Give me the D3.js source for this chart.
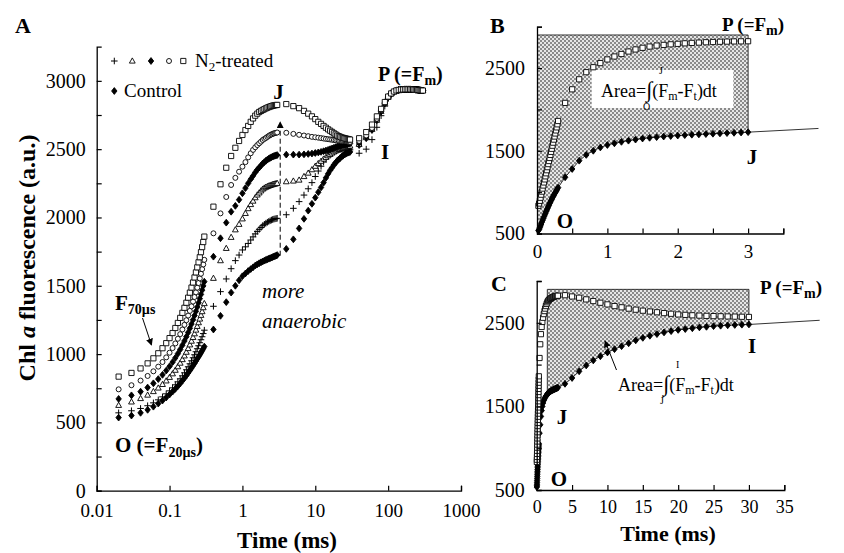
<!DOCTYPE html>
<html>
<head>
<meta charset="utf-8">
<script src="https://cdn.jsdelivr.net/npm/d3@7"></script>
<style>
  body { margin: 0; background: #fff; }
  text { font-family: "Liberation Serif", "Times New Roman", serif; fill: #000; }
</style>
</head>
<body>
<div id="vis"></div>
<script>
// sampling times of the transients (ms)
const TIMES = [
  0.02, 0.03, 0.04, 0.05, 0.06, 0.07, 0.08, 0.09, 0.10, 0.11, 0.12, 0.13, 0.14, 0.15, 0.16,
  0.17, 0.18, 0.19, 0.20, 0.21, 0.22, 0.23, 0.24, 0.25, 0.26, 0.27, 0.28, 0.29, 0.30,
  0.4, 0.5, 0.6, 0.7, 0.8, 0.9, 1.0, 1.1, 1.2, 1.3, 1.4, 1.5, 1.6, 1.7, 1.8, 1.9, 2.0,
  2.1, 2.2, 2.3, 2.4, 2.5, 2.6, 2.7, 2.8, 2.9, 3.0,
  4, 5, 6, 7, 8, 9, 10, 11, 12, 13, 14, 15, 16, 17, 18, 19, 20, 21, 22, 23, 24, 25, 26, 27, 28, 29, 30,
  40, 50, 60, 70, 80, 90, 100, 110, 120, 130, 140, 150, 160, 170, 180, 190, 200, 210, 220,
  230, 240, 250, 260, 270, 280, 290, 300
];

// Chl a fluorescence (a.u.) of each sample, same order as TIMES
const CONTROL = [
  535, 550, 570, 592, 615, 638, 660, 682, 704, 725, 745, 765, 785, 805, 824,
  843, 862, 880, 898, 915, 932, 949, 965, 980, 995, 1010, 1025, 1040, 1055,
  1180, 1280, 1380, 1450, 1500, 1540, 1570, 1590, 1608, 1622, 1635, 1648, 1657, 1665, 1672, 1678, 1684,
  1689, 1694, 1698, 1702, 1706, 1710, 1714, 1717, 1721, 1725,
  1770, 1840, 1920, 1990, 2050, 2100, 2145, 2185, 2220, 2255, 2290, 2320, 2345, 2365, 2385, 2400, 2415,
  2425, 2435, 2445, 2452, 2460, 2465, 2470, 2474, 2477, 2480,
  2530, 2580, 2640, 2710, 2775, 2835, 2880, 2905, 2920, 2928, 2933, 2935, 2937, 2938, 2938, 2938, 2938,
  2937, 2937, 2936, 2935, 2934, 2933, 2932, 2931, 2930, 2929
];
const N2_PLUS = [
  570, 585, 602, 622, 643, 665, 687, 709, 731, 753, 775, 797, 819, 841, 863,
  885, 907, 929, 951, 973, 995, 1017, 1039, 1061, 1083, 1105, 1127, 1150, 1175,
  1350, 1457, 1550, 1625, 1684, 1725, 1762, 1785, 1810, 1835, 1858, 1880, 1898, 1913, 1927, 1940, 1950,
  1958, 1965, 1971, 1976, 1981, 1985, 1988, 1990, 1992, 1994,
  2020, 2067, 2116, 2164, 2210, 2255, 2300, 2340, 2375, 2405, 2430, 2450, 2465, 2476, 2484, 2490, 2494,
  2497, 2499, 2500, 2500, 2500, 2499, 2498, 2497, 2496, 2495,
  2470, 2500, 2570, 2660, 2745, 2815, 2870, 2900, 2918, 2927, 2932, 2935, 2937, 2938, 2938, 2938, 2938,
  2937, 2937, 2936, 2935, 2934, 2933, 2932, 2931, 2930, 2929
];
const N2_TRIANGLE = [
  625, 650, 675, 700, 726, 752, 778, 804, 830, 856, 882, 908, 934, 960, 987,
  1014, 1041, 1068, 1095, 1122, 1149, 1176, 1203, 1230, 1257, 1284, 1311, 1340, 1370,
  1555, 1684, 1774, 1855, 1910, 1950, 1990, 2030, 2065, 2095, 2120, 2145, 2165, 2180, 2195, 2208, 2216,
  2222, 2227, 2231, 2235, 2238, 2241, 2244, 2246, 2248, 2250,
  2262, 2267, 2274, 2300, 2325, 2350, 2375, 2395, 2412, 2428, 2440, 2452, 2462, 2472, 2480, 2487, 2493,
  2498, 2502, 2506, 2509, 2512, 2515, 2517, 2519, 2521, 2523,
  2535, 2585, 2645, 2712, 2777, 2836, 2880, 2905, 2920, 2928, 2933, 2935, 2937, 2938, 2938, 2938, 2938,
  2937, 2937, 2936, 2935, 2934, 2933, 2932, 2931, 2930, 2929
];
const N2_DIAMOND = [
  672, 698, 725, 755, 786, 817, 848, 879, 910, 941, 972, 1003, 1034, 1065, 1096,
  1127, 1158, 1189, 1220, 1251, 1282, 1313, 1344, 1375, 1406, 1437, 1468, 1499, 1530,
  1713, 1848, 1962, 2042, 2085, 2130, 2177, 2215, 2250, 2280, 2305, 2330, 2350, 2365, 2380, 2395, 2405,
  2415, 2423, 2430, 2436, 2441, 2445, 2449, 2452, 2455, 2457,
  2460, 2460, 2460, 2462, 2465, 2468, 2472, 2476, 2480, 2485, 2490, 2495, 2500, 2505, 2510, 2514, 2518,
  2522, 2525, 2528, 2531, 2534, 2536, 2538, 2540, 2541, 2542,
  2545, 2590, 2650, 2718, 2780, 2838, 2882, 2906, 2921, 2929, 2934, 2936, 2937, 2938, 2938, 2938, 2938,
  2937, 2937, 2936, 2935, 2934, 2933, 2932, 2931, 2930, 2929
];
const N2_CIRCLE = [
  742, 772, 806, 840, 874, 908, 942, 976, 1010, 1044, 1078, 1112, 1146, 1180, 1214,
  1248, 1282, 1316, 1350, 1384, 1418, 1452, 1486, 1520, 1554, 1588, 1622, 1656, 1690,
  1884, 2030, 2150, 2238, 2290, 2335, 2372, 2405, 2440, 2470, 2495, 2514, 2530, 2543, 2555, 2567, 2575,
  2582, 2590, 2597, 2603, 2608, 2612, 2615, 2618, 2620, 2622,
  2620, 2612, 2605, 2600, 2595, 2590, 2587, 2584, 2581, 2578, 2575, 2573, 2571, 2569, 2567, 2565, 2563,
  2562, 2561, 2560, 2559, 2558, 2557, 2556, 2555, 2554, 2553,
  2560, 2600, 2655, 2722, 2785, 2840, 2884, 2907, 2922, 2929, 2934, 2936, 2937, 2938, 2938, 2938, 2938,
  2937, 2937, 2936, 2935, 2934, 2933, 2932, 2931, 2930, 2929
];
const N2_SQUARE = [
  835, 862, 895, 932, 969, 1006, 1043, 1080, 1117, 1154, 1191, 1228, 1265, 1302, 1339,
  1376, 1413, 1450, 1487, 1524, 1561, 1598, 1635, 1672, 1709, 1746, 1783, 1820, 1860,
  2079, 2243, 2364, 2450, 2510, 2560, 2604, 2640, 2670, 2700, 2725, 2745, 2760, 2772, 2780, 2787, 2793,
  2799, 2804, 2808, 2812, 2815, 2818, 2820, 2822, 2823, 2824,
  2830, 2815, 2800, 2780, 2760, 2740, 2720, 2700, 2685, 2670, 2657, 2645, 2635, 2626, 2616, 2608, 2600,
  2595, 2590, 2586, 2583, 2580, 2578, 2576, 2574, 2572, 2570,
  2580, 2625, 2680, 2740, 2795, 2845, 2885, 2908, 2922, 2930, 2934, 2936, 2937, 2938, 2938, 2938, 2938,
  2937, 2937, 2936, 2935, 2934, 2933, 2932, 2931, 2930, 2929
];

// tick values
const A_X_TICKS = [0.01, 0.1, 1, 10, 100, 1000];
const A_Y_TICKS = [0, 250, 500, 750, 1000, 1250, 1500, 1750, 2000, 2250, 2500, 2750, 3000];
const BC_Y_TICKS = [500, 1000, 1500, 2000, 2500, 3000];
const B_X_TICKS = [0, 0.5, 1, 1.5, 2, 2.5, 3, 3.5];
const C_X_TICKS = [0, 5, 10, 15, 20, 25, 30, 35];

// F_m level and the integration limits of the shaded areas (ms)
const FM = 2900;
const B_LIMITS = [0, 3];
const C_LIMITS = [1.5, 30];
// dashed arrow at J in panel A: time and fluorescence range
const J_ARROW_TIME = 3.3;
const J_ARROW_RANGE = [1720, 2700];

const FRAME_WIDTH = 844;
const FRAME_HEIGHT = 553;
const SERIF = '"Liberation Serif", "Times New Roman", serif';

const SVG = d3.select("#vis")
              .append("svg")
                .attr("width", FRAME_WIDTH)
                .attr("height", FRAME_HEIGHT)
                .attr("font-family", SERIF);

// scales of the three panels
const X_A = d3.scaleLog().domain([0.01, 1000]).range([96.7, 461]);
const Y_A = d3.scaleLinear().domain([0, 3250]).range([490.7, 46.7]);
const X_B = d3.scaleLinear().domain([0, 3.5]).range([537, 783.3]);
const Y_B = d3.scaleLinear().domain([500, 3000]).range([233.5, 26.7]);
const X_C = d3.scaleLinear().domain([0, 35]).range([536.7, 784.3]);
const Y_C = d3.scaleLinear().domain([500, 3000]).range([490, 281]);

// defs: stipple fill and arrow heads
const DEFS = SVG.append("defs");
const PAT = DEFS.append("pattern")
                .attr("id", "stipple")
                .attr("patternUnits", "userSpaceOnUse")
                .attr("width", 4).attr("height", 4);
PAT.append("rect").attr("width", 4).attr("height", 4).attr("fill", "#e6e6e6");
PAT.append("rect").attr("width", 2).attr("height", 2).attr("fill", "#8a8a8a");
PAT.append("rect").attr("x", 2).attr("y", 2).attr("width", 2).attr("height", 2).attr("fill", "#8a8a8a");

DEFS.append("marker")
      .attr("id", "head")
      .attr("viewBox", "0 0 10 10")
      .attr("refX", 9).attr("refY", 5)
      .attr("markerWidth", 7).attr("markerHeight", 7)
      .attr("markerUnits", "userSpaceOnUse")
      .attr("orient", "auto")
    .append("path")
      .attr("d", "M0,0L10,5L0,10Z")
      .attr("fill", "#000");

// marker shapes
const SHAPES = {
  square: "M-2.6,-2.6h5.2v5.2h-5.2z",
  circle: "M2.5,0A2.5,2.5 0 1,1 -2.5,0A2.5,2.5 0 1,1 2.5,0Z",
  triangle: "M0,-3.1L2.9,2.1L-2.9,2.1Z",
  diamond: "M0,-3.4L2.7,0L0,3.4L-2.7,0Z",
  plus: "M-3.3,0H3.3M0,-3.3V3.3"
};

function styleMarker(sel, shape) {
  sel.attr("d", SHAPES[shape])
     .attr("fill", shape === "diamond" ? "#000" : (shape === "plus" ? "none" : "#fff"))
     .attr("stroke", "#000")
     .attr("stroke-width", shape === "plus" ? 1 : 0.9);
}

// pairs a series with TIMES, keeping samples in [t0, t1]
function points(values, t0, t1) {
  return TIMES.map((t, i) => ({t: t, v: values[i]}))
              .filter(d => d.v != null && d.t >= t0 && d.t <= t1);
}

function drawMarkers(g, data, shape, xs, ys) {
  g.append("g")
    .selectAll("path")
    .data(data)
    .enter()
    .append("path")
      .attr("transform", d => "translate(" + xs(d.t) + "," + ys(d.v) + ")")
      .call(styleMarker, shape);
}

function styleAxis(g, size) {
  g.attr("font-family", SERIF);
  g.select(".domain").attr("stroke", "#000").attr("stroke-width", 1.3);
  g.selectAll(".tick line").attr("stroke", "#000").attr("stroke-width", 1.2);
  g.selectAll(".tick text")
    .attr("font-family", SERIF)
    .attr("font-size", size)
    .attr("fill", "#000");
}

// text made of runs; a run may be a lowered subscript
function richText(g, x, y, runs, size, opts) {
  opts = opts || {};
  const t = g.append("text")
             .attr("x", x).attr("y", y)
             .attr("font-family", SERIF)
             .attr("font-size", size)
             .attr("font-weight", opts.bold ? "bold" : "normal")
             .attr("text-anchor", opts.anchor || "start");
  if (opts.italic) t.attr("font-style", "italic");
  let shift = 0;
  runs.forEach(r => {
    const s = t.append("tspan").text(r.text);
    const want = r.sub ? (r.dy != null ? r.dy : size * 0.3) : 0;
    if (want - shift !== 0) s.attr("dy", want - shift);
    shift = want;
    if (r.sub || r.size) s.attr("font-size", r.size || size * 0.68);
    if (r.italic) s.attr("font-style", "italic");
  });
  return t;
}

function arrow(g, x1, y1, x2, y2, dash) {
  const l = g.append("line")
             .attr("x1", x1).attr("y1", y1)
             .attr("x2", x2).attr("y2", y2)
             .attr("stroke", "#000")
             .attr("stroke-width", 1)
             .attr("marker-end", "url(#head)");
  if (dash) l.attr("stroke-dasharray", dash);
}

// ---------------- PANEL A ----------------
const FRAME_A = SVG.append("g");

const SERIES_A = [
  {shape: "diamond", values: CONTROL},
  {shape: "plus", values: N2_PLUS},
  {shape: "triangle", values: N2_TRIANGLE},
  {shape: "diamond", values: N2_DIAMOND},
  {shape: "circle", values: N2_CIRCLE},
  {shape: "square", values: N2_SQUARE}
];

SERIES_A.forEach(s => {
  drawMarkers(FRAME_A, points(s.values, 0, 1000), s.shape, X_A, Y_A);
});

// dashed arrow at J
arrow(FRAME_A, X_A(J_ARROW_TIME), Y_A(J_ARROW_RANGE[0]),
      X_A(J_ARROW_TIME), Y_A(J_ARROW_RANGE[1]), "5,3");

// axes
FRAME_A.append("g")
    .attr("transform", "translate(0," + Y_A(0) + ")")
    .call(d3.axisBottom(X_A)
            .tickValues(A_X_TICKS)
            .tickFormat(d => String(d))
            .tickSize(-5).tickSizeOuter(-5).tickPadding(13))
    .call(styleAxis, 19);

FRAME_A.append("g")
    .attr("transform", "translate(" + X_A(0.01) + ",0)")
    .call(d3.axisLeft(Y_A)
            .tickValues(A_Y_TICKS)
            .tickFormat(d => d % 500 === 0 ? d : "")
            .tickSize(-5).tickSizeOuter(-5).tickPadding(11))
    .call(styleAxis, 20);

// legend
const LEGEND_SHAPES = ["plus", "triangle", "diamond", "circle", "square"];
const LEGEND_X = [114.3, 132.3, 151, 169, 183.3];
LEGEND_SHAPES.forEach((s, i) => {
  FRAME_A.append("path")
    .attr("transform", "translate(" + LEGEND_X[i] + ",61)")
    .call(styleMarker, s);
});
richText(FRAME_A, 195, 67, [{text: "N"}, {text: "2", sub: true, dy: 4, size: 13}, {text: "-treated"}], 19);
FRAME_A.append("path").attr("transform", "translate(114.3,91)").call(styleMarker, "diamond");
richText(FRAME_A, 124, 97, [{text: "Control"}], 19);

// labels
richText(FRAME_A, 15, 33, [{text: "A"}], 22, {bold: true});
richText(FRAME_A, 278.5, 99, [{text: "J"}], 21, {bold: true, anchor: "middle"});
richText(FRAME_A, 378, 81, [{text: "P (=F"}, {text: "m", sub: true, dy: 4, size: 14}, {text: ")"}], 20, {bold: true});
richText(FRAME_A, 385, 159, [{text: "I"}], 21, {bold: true, anchor: "middle"});
richText(FRAME_A, 115, 310, [{text: "F"}, {text: "70µs", sub: true, dy: 4, size: 14}], 21, {bold: true});
arrow(FRAME_A, 142.5, 318, 151.5, 345);
richText(FRAME_A, 262, 298, [{text: "more"}], 21, {italic: true});
richText(FRAME_A, 262, 328, [{text: "anaerobic"}], 21, {italic: true});
richText(FRAME_A, 115, 452, [{text: "O (=F"}, {text: "20µs", sub: true, dy: 5, size: 14}, {text: ")"}], 21, {bold: true});

richText(FRAME_A, 287, 548, [{text: "Time (ms)"}], 23, {bold: true, anchor: "middle"});
richText(FRAME_A.append("g").attr("transform", "translate(35,258) rotate(-90)"), 0, 0,
         [{text: "Chl "}, {text: "a", italic: true}, {text: " fluorescence (a.u.)"}],
         24, {bold: true, anchor: "middle"});

// ---------------- PANELS B AND C ----------------
function shadeArea(g, xs, ys, limits) {
  const under = points(CONTROL, limits[0], limits[1]);
  const poly = [[limits[0], FM], [limits[1], FM]]
                 .concat(under.slice().reverse().map(d => [d.t, d.v]));
  if (limits[0] === 0) poly.push([0, under[0].v]);
  const line = d3.line().x(d => xs(d[0])).y(d => ys(d[1]));
  g.append("path")
    .attr("d", line(poly) + "Z")
    .attr("fill", "url(#stipple)")
    .attr("stroke", "none");
  // outline on the F_m side
  const last = under[under.length - 1];
  const edge = [[limits[0], under[0].v], [limits[0], FM], [limits[1], FM], [limits[1], last.v]];
  g.append("path")
    .attr("d", line(limits[0] === 0 ? edge.slice(1) : edge))
    .attr("fill", "none")
    .attr("stroke", "#222")
    .attr("stroke-width", 0.9);
}

function fitLine(g, xs, ys, tEnd) {
  g.append("path")
    .datum(points(CONTROL, 0, tEnd))
    .attr("d", d3.line().x(d => xs(d.t)).y(d => ys(d.v)))
    .attr("fill", "none")
    .attr("stroke", "#000")
    .attr("stroke-width", 0.8);
}

function formula(g, x, y, lower, upper) {
  richText(g, x, y, [
    {text: "Area="},
    {text: "\u222B", size: 22},
    {text: "(F"},
    {text: "m", sub: true, dy: 3, size: 12},
    {text: "-F"},
    {text: "t", sub: true, dy: 3, size: 12},
    {text: ")dt"}
  ], 18);
  richText(g, x + 42, y + 13, [{text: lower}], 10);
  richText(g, x + 58, y - 23, [{text: upper}], 10);
}

// panel B
const FRAME_B = SVG.append("g");
shadeArea(FRAME_B, X_B, Y_B, B_LIMITS);
FRAME_B.append("rect")
    .attr("x", 591.7).attr("y", 70)
    .attr("width", 141.6).attr("height", 38)
    .attr("fill", "#fff");
formula(FRAME_B, 601, 97, "O", "J");
fitLine(FRAME_B, X_B, Y_B, 4);
drawMarkers(FRAME_B, points(CONTROL, 0, B_LIMITS[1]), "diamond", X_B, Y_B);
drawMarkers(FRAME_B, points(N2_SQUARE, 0, B_LIMITS[1]), "square", X_B, Y_B);

FRAME_B.append("g")
    .attr("transform", "translate(0," + Y_B(500) + ")")
    .call(d3.axisBottom(X_B)
            .tickValues(B_X_TICKS)
            .tickFormat(d => d % 1 === 0 ? d : "")
            .tickSize(-5).tickSizeOuter(-5).tickPadding(11))
    .call(styleAxis, 19);
FRAME_B.append("g")
    .attr("transform", "translate(" + X_B(0) + ",0)")
    .call(d3.axisLeft(Y_B)
            .tickValues(BC_Y_TICKS)
            .tickFormat(d => d % 1000 === 500 ? d : "")
            .tickSize(-5).tickSizeOuter(-5).tickPadding(12))
    .call(styleAxis, 20);

richText(FRAME_B, 490, 33, [{text: "B"}], 22, {bold: true});
richText(FRAME_B, 722, 31, [{text: "P (=F"}, {text: "m", sub: true, dy: 4, size: 14}, {text: ")"}], 19, {bold: true});
richText(FRAME_B, 752, 164, [{text: "J"}], 21, {bold: true, anchor: "middle"});
richText(FRAME_B, 565, 228, [{text: "O"}], 21, {bold: true, anchor: "middle"});

// panel C
const FRAME_C = SVG.append("g");
shadeArea(FRAME_C, X_C, Y_C, C_LIMITS);
FRAME_C.append("rect")
    .attr("x", 615).attr("y", 366)
    .attr("width", 133).attr("height", 30)
    .attr("fill", "#fff");
formula(FRAME_C, 618, 391, "J", "I");
arrow(FRAME_C, 616.5, 370, 605, 341);
fitLine(FRAME_C, X_C, Y_C, 40);
drawMarkers(FRAME_C, points(CONTROL, 0, C_LIMITS[1]), "diamond", X_C, Y_C);
drawMarkers(FRAME_C, points(N2_SQUARE, 0, C_LIMITS[1]), "square", X_C, Y_C);

FRAME_C.append("g")
    .attr("transform", "translate(0," + Y_C(500) + ")")
    .call(d3.axisBottom(X_C)
            .tickValues(C_X_TICKS)
            .tickSize(-5).tickSizeOuter(-5).tickPadding(10))
    .call(styleAxis, 18);
FRAME_C.append("g")
    .attr("transform", "translate(" + X_C(0) + ",0)")
    .call(d3.axisLeft(Y_C)
            .tickValues(BC_Y_TICKS)
            .tickFormat(d => d % 1000 === 500 ? d : "")
            .tickSize(-5).tickSizeOuter(-5).tickPadding(12))
    .call(styleAxis, 20);

richText(FRAME_C, 491, 291, [{text: "C"}], 22, {bold: true});
richText(FRAME_C, 760, 294, [{text: "P (=F"}, {text: "m", sub: true, dy: 4, size: 14}, {text: ")"}], 19, {bold: true});
richText(FRAME_C, 752, 353, [{text: "I"}], 21, {bold: true, anchor: "middle"});
richText(FRAME_C, 562, 424, [{text: "J"}], 21, {bold: true, anchor: "middle"});
richText(FRAME_C, 559, 486, [{text: "O"}], 21, {bold: true, anchor: "middle"});
richText(FRAME_C, 668, 541, [{text: "Time (ms)"}], 22, {bold: true, anchor: "middle"});
</script>
</body>
</html>
